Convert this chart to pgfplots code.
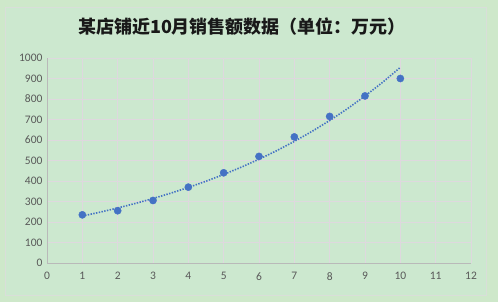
\documentclass[border=0pt]{standalone}
\usepackage{pgfplots}
\pgfplotsset{compat=1.18}
\usepackage{fontspec}
\setmainfont{Carlito}[Numbers=Lining]
\newfontfamily\cjk{Noto Sans CJK SC}
\definecolor{bgout}{RGB}{206,232,202}
\definecolor{bgin}{RGB}{204,232,207}
\definecolor{bordc}{RGB}{217,222,217}
\definecolor{gridc}{RGB}{222,216,222}
\definecolor{axc}{RGB}{185,185,185}
\definecolor{txtc}{RGB}{89,89,89}
\definecolor{ptc}{RGB}{68,114,196}
\begin{document}
\begin{tikzpicture}[x=1pt,y=1pt]
\useasboundingbox (0,0) rectangle (498,302);
\fill[bgout] (0,0) rectangle (498,302);
\fill[bgin,draw=bordc,line width=0.8pt] (5,7) rectangle (486,295);
\node[font=\cjk\bfseries\fontsize{18}{21}\selectfont,text=black!90] at (242,275) {某店铺近10月销售额数据（单位：万元）};
\begin{axis}[
  at={(47pt,39pt)}, anchor=south west,
  scale only axis, width=424pt, height=205pt,
  xmin=0, xmax=12, ymin=0, ymax=1000,
  xtick={0,1,...,12}, ytick={0,100,...,1000},
  grid=major, major grid style={gridc, line width=0.8pt},
  axis x line*=bottom, axis y line*=left,
  axis line style={axc, line width=0.8pt, -},
  major tick length=0pt,
  tick label style={font=\fontsize{11.5}{13}\selectfont, text=txtc},
  xticklabel style={yshift=-6pt},
  yticklabel style={xshift=-1pt},
  /pgf/number format/assume math mode=true,
  /pgf/number format/set thousands separator={},
  clip=false,
]
\addplot[ptc, line width=1.6pt, dash pattern=on 1.4pt off 1.4pt] coordinates {
(1,229.0)(1.5,247.9)(2,268.4)(2.5,290.5)(3,314.5)(3.5,340.4)(4,368.6)(4.5,398.9)(5,431.9)(5.5,467.5)(6,506.1)(6.5,547.8)(7,593.1)(7.5,642.0)(8,695.0)(8.5,752.3)(9,814.5)(9.5,881.6)(10,954.5)};
\addplot[only marks, mark=*, mark size=3.6pt, mark options={fill=ptc, draw=ptc}] coordinates {
(1,235)(2,255)(3,305)(4,370)(5,440)(6,520)(7,615)(8,715)(9,815)(10,900)};
\end{axis}
\end{tikzpicture}
\end{document}
